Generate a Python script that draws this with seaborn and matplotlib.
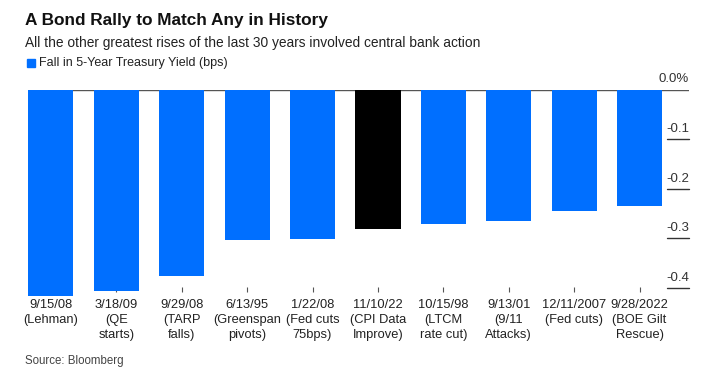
import numpy as np
import pandas as pd
import seaborn as sns
import matplotlib.pyplot as plt
import matplotlib.transforms as mtransforms

# data
events = ["9/15/08\n(Lehman)", "3/18/09\n(QE\nstarts)", "9/29/08\n(TARP\nfalls)",
          "6/13/95\n(Greenspan\npivots)", "1/22/08\n(Fed cuts\n75bps)",
          "11/10/22\n(CPI Data\nImprove)", "10/15/98\n(LTCM\nrate cut)",
          "9/13/01\n(9/11\nAttacks)", "12/11/2007\n(Fed cuts)", "9/28/2022\n(BOE Gilt\nRescue)"]
fall = [-0.416, -0.406, -0.375, -0.303, -0.301, -0.282, -0.271, -0.265, -0.244, -0.235]
highlight = [False, False, False, False, False, True, False, False, False, False]
yticks = [0.0, -0.1, -0.2, -0.3, -0.4]
ytick_labels = ["0.0%", "-0.1", "-0.2", "-0.3", "-0.4"]

BLUE = "#006FFF"
df = pd.DataFrame({"event": events, "fall": fall,
                   "kind": ["hl" if h else "base" for h in highlight]})

sns.set_theme(style="white")
plt.rcParams["font.family"] = ["Liberation Sans", "DejaVu Sans"]

fig = plt.figure(figsize=(7.16, 3.73), dpi=100)
# axes: x 28..689 px, y 89.5..292 px
ax = fig.add_axes([28 / 716, 1 - 292 / 373, (689 - 28) / 716, (292 - 89.5) / 373])

sns.barplot(data=df, x="event", y="fall", hue="kind",
            palette={"base": BLUE, "hl": "black"}, width=0.69,
            dodge=False, legend=False, ax=ax, saturation=1)
for p in ax.patches:
    p.set_clip_on(False)
    p.set_edgecolor("none")

ax.set_xlim(-0.35, 9.755)
ax.set_ylim(-0.408, 0)
ax.set_axisbelow(True)
for s in ax.spines.values():
    s.set_visible(False)

ax.axhline(0, color="#555555", lw=1.0, zorder=0.6)

# category ticks
ax.tick_params(axis="x", which="major", direction="in", length=3.5, width=0.8,
               color="#555555", bottom=True, pad=5, labelsize=9.3, labelcolor="#222222")
ax.set_xticks(range(len(events)))
ax.set_xticklabels(events, linespacing=1.32, va="top")
ax.set_xlabel("")
ax.set_ylabel("")
ax.set_yticks([])

# right-hand value axis: short lines with labels above
blend = mtransforms.blended_transform_factory(ax.transAxes, ax.transData)
for v, lab in zip(yticks, ytick_labels):
    if v != 0:
        ax.plot([0.967, 1.0], [v, v], color="#333333", lw=1.0, transform=blend, clip_on=False)
    ax.annotate(lab, xy=(1.0, v), xycoords=blend, xytext=(0, 3), textcoords="offset points",
                ha="right", va="bottom", fontsize=9.5, color="#333333")

# titles
fig.text(25 / 716, 1 - 21 / 373, "A Bond Rally to Match Any in History",
         fontsize=12.4, fontweight="bold", color="#111111", va="center")
fig.text(25 / 716, 1 - 43 / 373,
         "All the other greatest rises of the last 30 years involved central bank action",
         fontsize=9.9, color="#222222", va="center")
fig.patches.append(plt.Rectangle((27 / 716, 1 - 67 / 373), 8 / 716, 8 / 373,
                                 transform=fig.transFigure, color=BLUE, figure=fig))
fig.text(39 / 716, 1 - 63 / 373, "Fall in 5-Year Treasury Yield (bps)",
         fontsize=9.0, color="#222222", va="center")
fig.text(25 / 716, 1 - 361 / 373, "Source: Bloomberg",
         fontsize=8.3, color="#444444", va="center")

fig.savefig("out.png", dpi=100)
